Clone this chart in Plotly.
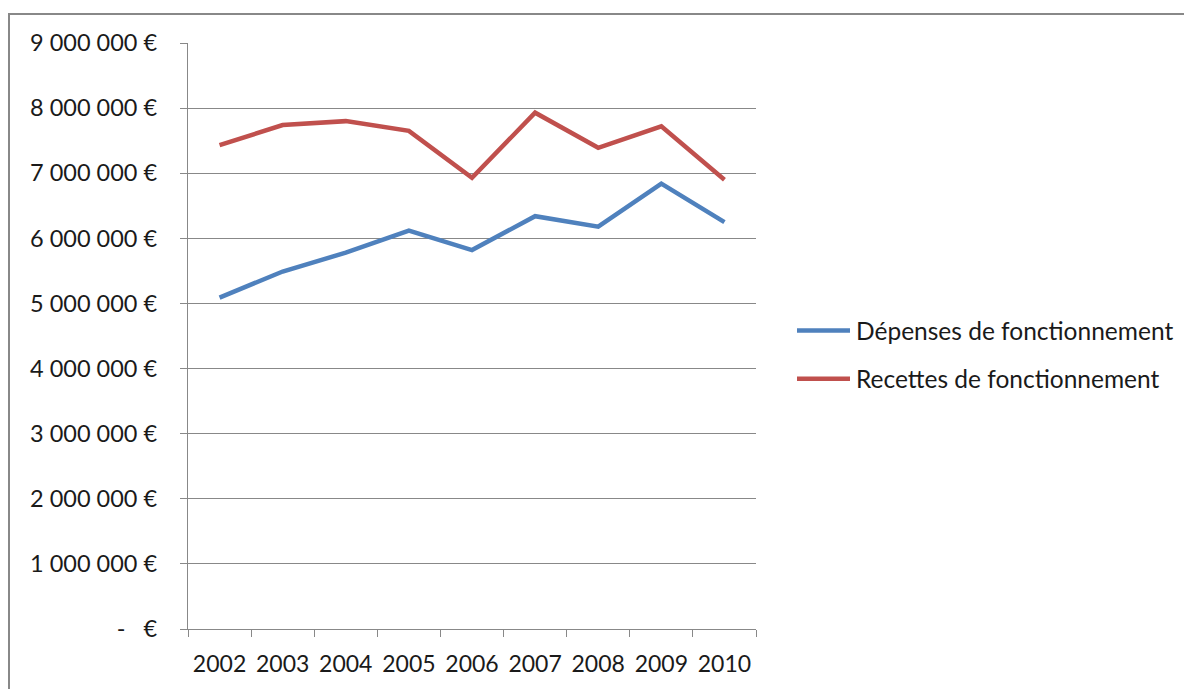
import plotly.graph_objects as go

years = ["2002", "2003", "2004", "2005", "2006", "2007", "2008", "2009", "2010"]
depenses = [5090000, 5490000, 5780000, 6120000, 5820000, 6340000, 6180000, 6840000, 6250000]
recettes = [7430000, 7740000, 7800000, 7650000, 6930000, 7930000, 7390000, 7720000, 6900000]
series_names = ["Dépenses de fonctionnement", "Recettes de fonctionnement"]
colors = ["#4F81BD", "#C0504D"]

tick_vals = [0, 1000000, 2000000, 3000000, 4000000, 5000000, 6000000, 7000000, 8000000, 9000000]
tick_text = ["-\u00a0\u00a0\u00a0€", "1 000 000 €", "2 000 000 €", "3 000 000 €", "4 000 000 €",
             "5 000 000 €", "6 000 000 €", "7 000 000 €", "8 000 000 €", "9 000 000 €"]

OFF = 8  # page body margin
W, H = 1192 - OFF, 689 - OFF
L, R, T, B = 188 - OFF, 756 - OFF, 43 - OFF, 631 - OFF
FONT = "Lato"
TXT = "#1a1a1a"
GRID = "#888888"

fig = go.Figure()
for name, vals, col in zip(series_names, [depenses, recettes], colors):
    fig.add_trace(go.Scatter(x=years, y=vals, mode="lines", name=name,
                             line=dict(color=col, width=4.5), showlegend=False))


def px_x(p):
    return (p - OFF - L) / (R - L)


def px_y(p):
    return (B - (p - OFF)) / (B - T)


shapes = []
annotations = []
# outer chart border
shapes.append(dict(type="rect", xref="paper", yref="paper",
                   x0=px_x(9), x1=px_x(1220), y0=px_y(14), y1=px_y(720),
                   line=dict(color="#888888", width=2), fillcolor="rgba(0,0,0,0)", layer="below"))
# legend
leg_y = [331.5, 380]
for name, col, yy in zip(series_names, colors, leg_y):
    shapes.append(dict(type="line", xref="paper", yref="paper",
                       x0=px_x(797), x1=px_x(850), y0=px_y(yy), y1=px_y(yy),
                       line=dict(color=col, width=4.5)))
    annotations.append(dict(xref="paper", yref="paper", x=px_x(854), y=px_y(yy),
                            text=name, showarrow=False, xanchor="left", yanchor="middle",
                            font=dict(family=FONT, size=24.5, color=TXT)))

fig.update_layout(
    width=W, height=H,
    margin=dict(l=L, r=W - R, t=T, b=H - B),
    paper_bgcolor="white", plot_bgcolor="white",
    shapes=shapes, annotations=annotations,
    showlegend=False,
    xaxis=dict(type="category", tickson="boundaries", ticks="outside", ticklen=7,
               tickcolor=GRID, showline=True, linecolor=GRID, linewidth=1.3,
               showgrid=False, tickfont=dict(family=FONT, size=23, color=TXT),
               ticklabelstandoff=14,
               range=[-0.5, 8.5], fixedrange=True),
    yaxis=dict(range=[0, 9000000], tickvals=tick_vals, ticktext=tick_text,
               ticks="outside", ticklen=7, tickcolor=GRID, showline=True,
               linecolor=GRID, linewidth=1.3, showgrid=True, gridcolor=GRID,
               gridwidth=1.3, zeroline=False, ticklabelstandoff=18,
               tickfont=dict(family=FONT, size=23.5, color=TXT), fixedrange=True),
)

fig.write_html("out.html")
